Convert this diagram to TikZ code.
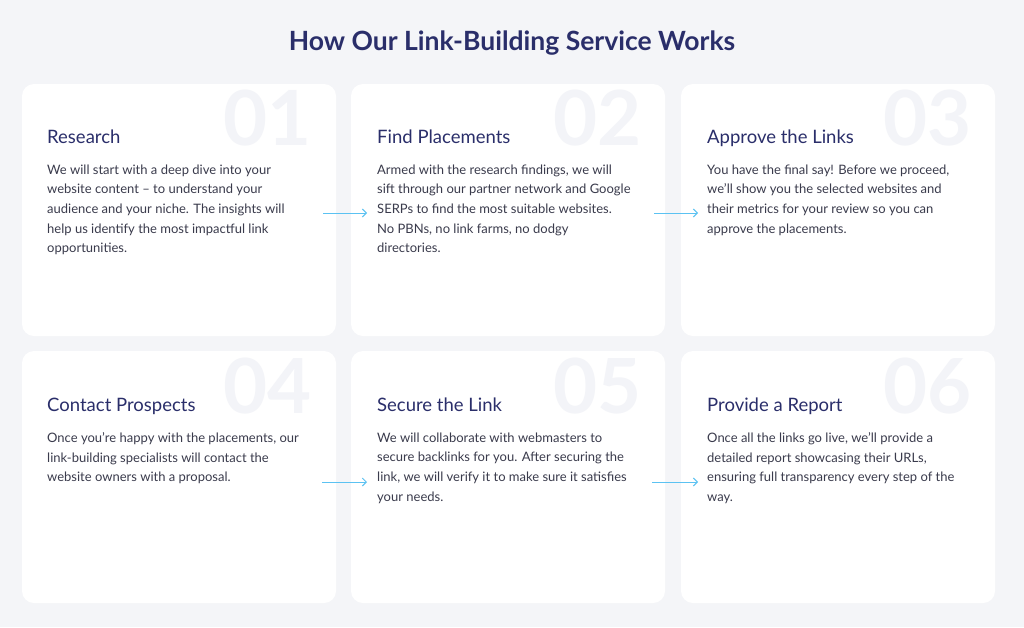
\documentclass[tikz,border=0pt]{standalone}
\usepackage{fontspec}
\setmainfont{Lato}
\usetikzlibrary{arrows.meta}
\begin{document}
\begin{tikzpicture}[x=1pt,y=-1pt,
  card/.style={fill=white,rounded corners=12pt,draw=none},
  num/.style={anchor=north east,font=\fontsize{76}{76}\selectfont\bfseries,text=numc,inner sep=0pt},
  head/.style={anchor=base west,font=\fontsize{18.5}{20}\selectfont,text=navy,inner sep=0pt},
  body/.style={anchor=north west,align=left,font=\fontsize{13}{19.6}\selectfont,text=bodyc,inner sep=0pt},
  arr/.style={draw=arrc,line width=1pt,-{Straight Barb[length=4pt,width=8pt]}}]
\definecolor{navy}{HTML}{2A2E6A}
\definecolor{bodyc}{HTML}{3A3B4C}
\definecolor{arrc}{HTML}{5BC2F2}
\definecolor{bg}{HTML}{F4F5F8}
\definecolor{numc}{HTML}{F3F4F8}
\fill[bg] (0,0) rectangle (1024,627);
\node[font=\fontsize{26.5}{28}\selectfont\bfseries,text=navy] (title) at (512,43) {How Our Link-Building Service Works};
\foreach \i/\x/\y in {1/22/84,2/351/84,3/681/84,4/22/351,5/351/351,6/681/351}{
  \path[card] (\x,\y) rectangle ++(314,252);
}
\node[num] (n1) at (312,90) {01};
\node[num] (n2) at (642,90) {02};
\node[num] (n3) at (972,90) {03};
\node[num] (n4) at (312,358) {04};
\node[num] (n5) at (642,358) {05};
\node[num] (n6) at (972,358) {06};
\node[head] (h1) at (47,143.5) {Research};
\node[head] (h2) at (377,143.5) {Find Placements};
\node[head] (h3) at (707,143.5) {Approve the Links};
\node[head] (h4) at (47,411.5) {Contact Prospects};
\node[head] (h5) at (377,411.5) {Secure the Link};
\node[head] (h6) at (707,411.5) {Provide a Report};
\node[body] (b1) at (47,164.5) {We will start with a deep dive into your\\website content -- to understand your\\audience and your niche. The insights will\\help us identify the most impactful link\\opportunities.};
\node[body] (b2) at (377,164.5) {Armed with the research findings, we will\\sift through our partner network and Google\\SERPs to find the most suitable websites.\\No PBNs, no link farms, no dodgy\\directories.};
\node[body] (b3) at (707,164.5) {You have the final say! Before we proceed,\\we'll show you the selected websites and\\their metrics for your review so you can\\approve the placements.};
\node[body] (b4) at (47,432.5) {Once you're happy with the placements, our\\link-building specialists will contact the\\website owners with a proposal.};
\node[body] (b5) at (377,432.5) {We will collaborate with webmasters to\\secure backlinks for you. After securing the\\link, we will verify it to make sure it satisfies\\your needs.};
\node[body] (b6) at (707,432.5) {Once all the links go live, we'll provide a\\detailed report showcasing their URLs,\\ensuring full transparency every step of the\\way.};
\coordinate (a1s) at (323,213); \coordinate (a1e) at (367,213);
\coordinate (a2s) at (654,213); \coordinate (a2e) at (698,213);
\coordinate (a3s) at (322,482); \coordinate (a3e) at (367,482);
\coordinate (a4s) at (652,482); \coordinate (a4e) at (698,482);
\draw[arr] (a1s) -- (a1e);
\draw[arr] (a2s) -- (a2e);
\draw[arr] (a3s) -- (a3e);
\draw[arr] (a4s) -- (a4e);
\end{tikzpicture}
\end{document}
